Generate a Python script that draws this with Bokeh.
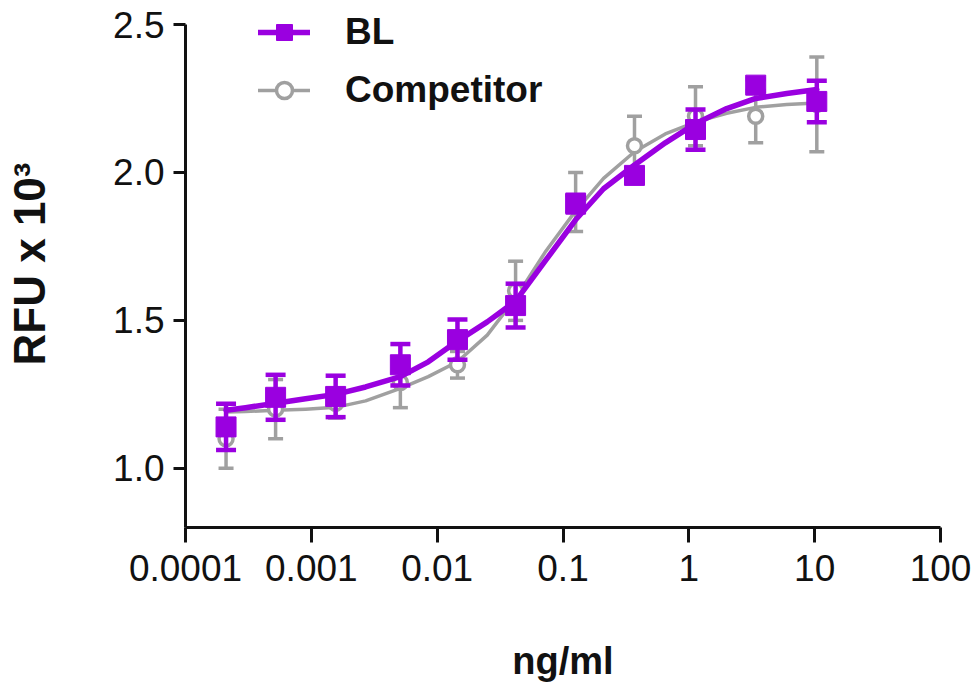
from bokeh.plotting import figure
from bokeh.models import (Range1d, FixedTicker, CustomJSTickFormatter, ColumnDataSource,
                          Whisker, TeeHead, Legend, LegendItem)
from bokeh.embed import file_html
from bokeh.resources import INLINE

# ---- data ----
conc = [0.00021, 0.00052, 0.00156, 0.0051, 0.0145, 0.042, 0.126, 0.37, 1.13, 3.4, 10.4]

bl_mean = [1.14, 1.24, 1.243, 1.35, 1.435, 1.55, 1.895, 1.99, 2.145, 2.295, 2.24]
bl_err = [0.078, 0.076, 0.07, 0.07, 0.068, 0.074, 0.03, 0.02, 0.068, 0.02, 0.07]

comp_mean = [1.10, 1.20, 1.22, 1.29, 1.35, 1.60, 1.90, 2.09, 2.19, 2.19, 2.23]
comp_err = [0.10, 0.10, 0.05, 0.085, 0.045, 0.10, 0.10, 0.10, 0.10, 0.09, 0.16]

fit_conc = [0.00021, 0.0003, 0.00052, 0.0009, 0.00156, 0.0027, 0.0051, 0.0085, 0.0145,
            0.025, 0.042, 0.072, 0.126, 0.21, 0.37, 0.65, 1.13, 2.0, 3.4, 6.0, 10.4]
bl_fit = [1.196, 1.205, 1.22, 1.235, 1.25, 1.275, 1.31, 1.36, 1.43,
          1.495, 1.565, 1.70, 1.84, 1.945, 2.025, 2.10, 2.165, 2.216, 2.25, 2.267, 2.28]
comp_fit = [1.19, 1.192, 1.196, 1.20, 1.206, 1.228, 1.27, 1.31, 1.36,
            1.45, 1.575, 1.73, 1.87, 1.98, 2.07, 2.13, 2.17, 2.20, 2.22, 2.23, 2.235]

series_names = ["BL", "Competitor"]
x_ticks = [0.0001, 0.001, 0.01, 0.1, 1, 10, 100]
x_tick_labels = ["0.0001", "0.001", "0.01", "0.1", "1", "10", "100"]
y_ticks = [1.0, 1.5, 2.0, 2.5]
y_tick_labels = ["1.0", "1.5", "2.0", "2.5"]
y_axis_min = 0.8
x_title = "ng/ml"
y_title = "RFU x 10³"

# ---- styles / layout ----
PURPLE = "#9A00E0"
GRAY = "#A0A0A0"
INK = "#111111"
FONT = "Liberation Sans"

FRAME_W, FRAME_H = 755, 527
TOP_PAD_PX = 24          # empty space above the 2.5 tick inside the frame (room for legend)
px_per_unit = (FRAME_H - TOP_PAD_PX) / (y_ticks[-1] - y_axis_min)
y_top = y_ticks[-1] + TOP_PAD_PX / px_per_unit

p = figure(frame_width=FRAME_W, frame_height=FRAME_H, x_axis_type="log",
           x_range=Range1d(x_ticks[0], x_ticks[-1]), y_range=Range1d(y_axis_min, y_top),
           output_backend="svg", toolbar_location=None,
           min_border_left=185, min_border_right=34, min_border_top=0, min_border_bottom=162)
p.outline_line_color = None
p.grid.visible = False
p.background_fill_color = "white"
p.border_fill_color = "white"

# axes
for ax in (p.xaxis[0], p.yaxis[0]):
    ax.axis_line_color = INK
    ax.axis_line_width = 3
    ax.major_tick_line_color = INK
    ax.major_tick_line_width = 3
    ax.minor_tick_line_color = None
    ax.major_tick_in = 0
    ax.major_label_text_font = FONT
    ax.major_label_text_font_size = "37px"
    ax.major_label_text_color = INK
    ax.axis_label_text_font = FONT
    ax.axis_label_text_font_style = "bold"
    ax.axis_label_text_color = INK

p.xaxis.ticker = FixedTicker(ticks=x_ticks)
p.xaxis.formatter = CustomJSTickFormatter(args=dict(vals=x_ticks, labels=x_tick_labels), code="""
let best = 0, d = Infinity;
for (let i = 0; i < vals.length; i++) {
  const e = Math.abs(Math.log10(vals[i]) - Math.log10(tick));
  if (e < d) { d = e; best = i; }
}
return labels[best];
""")
p.xaxis.major_tick_out = 15
p.xaxis.major_label_standoff = 12
p.xaxis.axis_label = x_title
p.xaxis.axis_label_text_font_size = "38px"
p.xaxis.axis_label_standoff = 56

p.yaxis.ticker = FixedTicker(ticks=y_ticks)
p.yaxis.bounds = (y_axis_min, y_ticks[-1])
p.yaxis.formatter = CustomJSTickFormatter(args=dict(vals=y_ticks, labels=y_tick_labels), code="""
let best = 0, d = Infinity;
for (let i = 0; i < vals.length; i++) {
  const e = Math.abs(vals[i] - tick);
  if (e < d) { d = e; best = i; }
}
return labels[best];
""")
p.yaxis.major_tick_out = 12
p.yaxis.major_label_standoff = 9
p.yaxis.axis_label = y_title
p.yaxis.axis_label_text_font_size = "44px"
p.yaxis.axis_label_standoff = 56

# sources
comp_src = ColumnDataSource(dict(x=conc, y=comp_mean,
                                 lo=[m - e for m, e in zip(comp_mean, comp_err)],
                                 hi=[m + e for m, e in zip(comp_mean, comp_err)]))
bl_src = ColumnDataSource(dict(x=conc, y=bl_mean,
                               lo=[m - e for m, e in zip(bl_mean, bl_err)],
                               hi=[m + e for m, e in zip(bl_mean, bl_err)]))
comp_fit_src = ColumnDataSource(dict(x=fit_conc, y=comp_fit))
bl_fit_src = ColumnDataSource(dict(x=fit_conc, y=bl_fit))

# Competitor (drawn first, underneath)
comp_line = p.line("x", "y", source=comp_fit_src, line_color=GRAY, line_width=3.5,
                   line_join="round", line_cap="round")
w_comp = Whisker(source=comp_src, base="x", lower="lo", upper="hi", dimension="height",
                 line_color=GRAY, line_width=3.5, level="glyph",
                 lower_head=TeeHead(size=15, line_color=GRAY, line_width=3.5),
                 upper_head=TeeHead(size=15, line_color=GRAY, line_width=3.5))
p.renderers.append(w_comp)
comp_pts = p.scatter("x", "y", source=comp_src, marker="circle", size=14,
                     fill_color="white", line_color=GRAY, line_width=3.5)

# BL on top
bl_line = p.line("x", "y", source=bl_fit_src, line_color=PURPLE, line_width=5.5,
                 line_join="round", line_cap="round")
w_bl = Whisker(source=bl_src, base="x", lower="lo", upper="hi", dimension="height",
               line_color=PURPLE, line_width=4.5, level="glyph",
               lower_head=TeeHead(size=20, line_color=PURPLE, line_width=4.5),
               upper_head=TeeHead(size=20, line_color=PURPLE, line_width=4.5))
p.renderers.append(w_bl)
bl_pts = p.scatter("x", "y", source=bl_src, marker="square", size=20,
                   fill_color=PURPLE, line_color=PURPLE, line_width=1)

legend = Legend(items=[LegendItem(label=series_names[0], renderers=[bl_line, bl_pts]),
                       LegendItem(label=series_names[1], renderers=[comp_line, comp_pts])],
                location=(73, 416), orientation="vertical",
                glyph_width=52, glyph_height=40, label_height=40, label_width=10,
                spacing=16, padding=0, margin=0, label_standoff=35,
                label_text_font=FONT, label_text_font_style="bold",
                label_text_font_size="37px", label_text_color=INK,
                label_text_baseline="middle",
                background_fill_alpha=0, border_line_alpha=0)
p.add_layout(legend, "center")

open("out.html", "w").write(file_html(p, INLINE))
